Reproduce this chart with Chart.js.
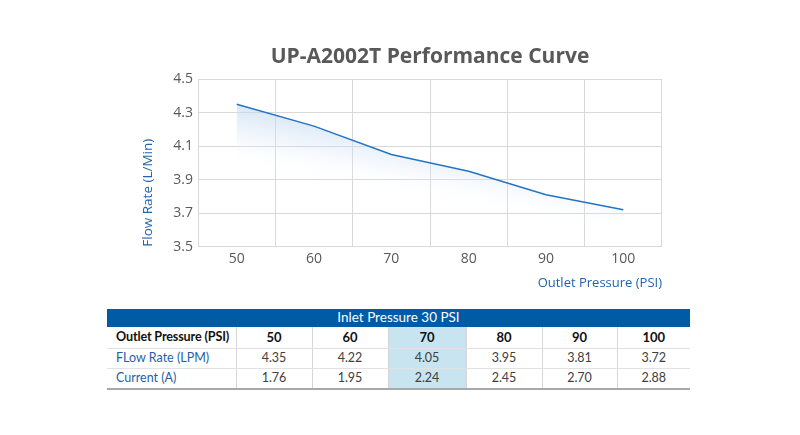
<!DOCTYPE html>
<html>
<head>
<meta charset="utf-8">
<script src="https://cdn.jsdelivr.net/npm/chart.js@4.4.0/dist/chart.umd.min.js"></script>
<style>
  html, body { margin: 0; padding: 0; background: #fff; }
  #wrap { position: absolute; left: 0; top: 0; width: 800px; height: 300px; }
  #tbl { position: absolute; left: 107px; top: 309px; width: 583px; border-collapse: collapse; font-family: Lato, sans-serif; table-layout: fixed; }
  #tbl td, #tbl th { padding: 0; font-size: 12.5px; text-align: center; color: #404040; white-space: nowrap; line-height: 1; }
  #tbl .hdr th { background: #005ba6; color: #fff; font-weight: normal; height: 18px; font-size: 13.5px; }
  #tbl .r1 td { height: 21px; font-weight: bold; color: #111; font-size: 13px; border-bottom: 1px solid #e2e2e2; }
  #tbl .r1 td.lab { font-size: 12.6px; letter-spacing: -0.15px; }
  #tbl .r2 td { height: 19px; border-bottom: 1px solid #e2e2e2; }
  #tbl .r3 td { height: 19px; border-bottom: 2px solid #a8a8a8; }
  #tbl td + td { border-left: 1px solid #d6d6d6; }
  #tbl td.lab { text-align: left; padding-left: 9px; }
  #tbl .r2 td.lab, #tbl .r3 td.lab { color: #1f5fa8; }
  #tbl td.hl { background: #c7e4f0; }
</style>
</head>
<body>
<div id="wrap"><canvas id="c"></canvas></div>
<table id="tbl"></table>
<script>
const titleText = "UP-A2002T Performance Curve";
const tableTitle = "Inlet Pressure 30 PSI";
const pressures = [50, 60, 70, 80, 90, 100];
const flowRates = [4.35, 4.22, 4.05, 3.95, 3.81, 3.72];
const currents = [1.76, 1.95, 2.24, 2.45, 2.70, 2.88];
const highlightPressure = 70;
const yMin = 3.5, yMax = 4.5, yStep = 0.2;
const rowLabels = ["Outlet Pressure (PSI)", "FLow Rate (LPM)", "Current (A)"];
const colWidths = [129, 76, 76, 78, 76, 75, 73];

// table
(function buildTable() {
  const t = document.getElementById('tbl');
  let html = '<colgroup>' + colWidths.map(w => '<col style="width:' + w + 'px">').join('') + '</colgroup>';
  html += '<tr class="hdr"><th colspan="' + (pressures.length + 1) + '">' + tableTitle + '</th></tr>';
  const rows = [pressures.map(String), flowRates.map(v => v.toFixed(2)), currents.map(v => v.toFixed(2))];
  rows.forEach((r, i) => {
    html += '<tr class="r' + (i + 1) + '"><td class="lab">' + rowLabels[i] + '</td>' +
      r.map((v, j) => '<td' + (pressures[j] === highlightPressure ? ' class="hl"' : '') + '>' + v + '</td>').join('') + '</tr>';
  });
  t.innerHTML = html;
})();

function fillGradient(context) {
  const chart = context.chart;
  const { ctx, chartArea, scales } = chart;
  if (!chartArea) return 'rgba(200,220,240,0.3)';
  const x0 = scales.x.getPixelForValue(0), y0 = scales.y.getPixelForValue(flowRates[0]);
  // iso-lines slightly flatter than the curve so the glow narrows to the right
  const sx = 1, sy = 0.18, len = Math.hypot(sx, sy);
  const nx = -sy / len, ny = sx / len;
  const L = 60;
  const g = ctx.createLinearGradient(x0, y0, x0 + nx * L, y0 + ny * L);
  g.addColorStop(0, 'rgba(190,214,240,0.6)');
  g.addColorStop(0.45, 'rgba(205,224,245,0.3)');
  g.addColorStop(1, 'rgba(255,255,255,0)');
  return g;
}

const blue = '#2474c4';
const grey = '#595959';
new Chart(document.getElementById('c'), {
  type: 'line',
  data: {
    labels: pressures,
    datasets: [{
      data: flowRates,
      borderColor: blue,
      borderWidth: 1.5,
      pointRadius: 0,
      tension: 0,
      fill: 'origin',
      backgroundColor: fillGradient
    }]
  },
  options: {
    responsive: true,
    maintainAspectRatio: false,
    animation: false,
    layout: { padding: { left: 0, right: 138, top: 0, bottom: 0 } },
    plugins: {
      legend: { display: false },
      tooltip: { enabled: false },
      title: {
        display: true,
        text: titleText,
        fullSize: false,
        color: grey,
        font: { family: 'Open Sans', size: 21, weight: 'bold' },
        padding: { top: 44, bottom: 10 }
      }
    },
    scales: {
      x: {
        type: 'category',
        offset: true,
        grid: { offset: true, color: '#d9d9d9', drawTicks: false },
        border: { display: false },
        ticks: { color: grey, font: { family: 'Open Sans', size: 14 }, padding: 4 },
        title: { display: true, text: 'Outlet Pressure (PSI)', align: 'end', color: '#1f63ad',
          font: { family: 'Open Sans', size: 13 }, padding: { top: 0, bottom: 9 } },
        afterFit: s => { s.height = 53.3; }
      },
      y: {
        min: yMin, max: yMax,
        ticks: { stepSize: yStep, color: grey, font: { family: 'Open Sans', size: 14 }, padding: 5,
          callback: v => v.toFixed(1) },
        grid: { color: '#d9d9d9', drawTicks: false },
        border: { display: false },
        title: { display: true, text: 'Flow Rate (L/Min)', align: 'start', color: '#1f63ad',
          font: { family: 'Open Sans', size: 13.5 }, padding: { top: 140 } },
        afterFit: s => { s.width = 198; }
      }
    }
  }
});
</script>
</body>
</html>
